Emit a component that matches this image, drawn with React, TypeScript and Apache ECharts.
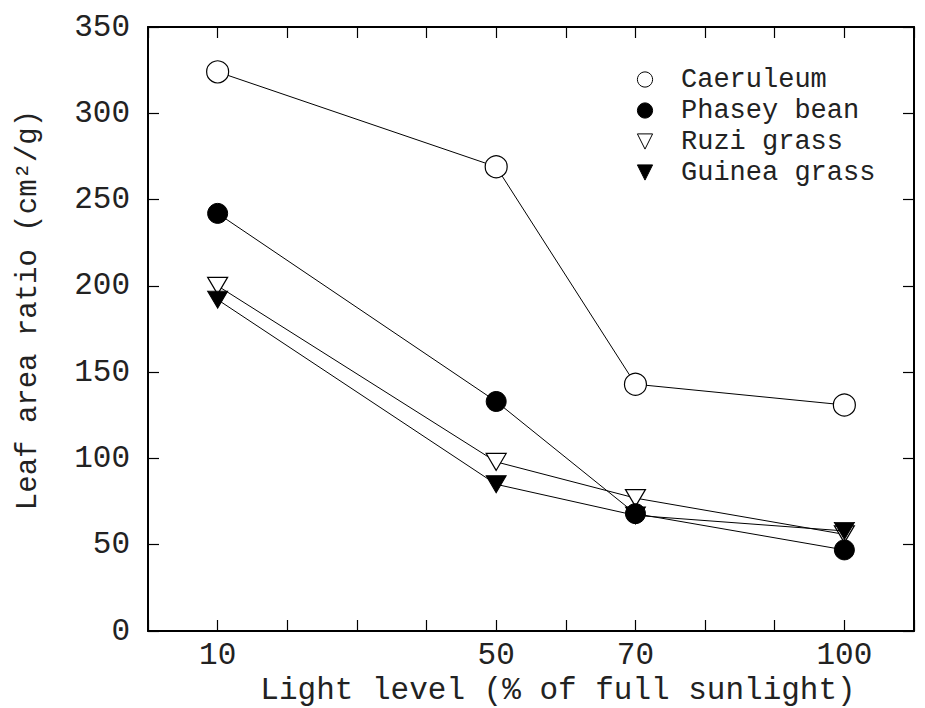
import React, { useEffect, useRef } from "react";
import * as echarts from "echarts";

const xValues = [10, 50, 70, 100];
const xTickLabels = [10, 50, 70, 100];
const seriesNames = ["Caeruleum", "Phasey bean", "Ruzi grass", "Guinea grass"];
const caeruleum = [324, 269, 143, 131];
const phaseyBean = [242, 133, 68, 47];
const ruziGrass = [200, 98, 77, 56];
const guineaGrass = [192, 85, 67, 58];
const xTitle = "Light level (% of full sunlight)";
const yTitle = "Leaf area ratio (cm²/g)";

const FONT = "'Liberation Mono', 'DejaVu Sans Mono', monospace";
const INK = "#222";

export default function App() {
  const ref = useRef<HTMLDivElement>(null);
  useEffect(() => {
    if (!ref.current) return;
    const chart = echarts.init(ref.current, null, { renderer: "svg" });
    const pairs = (vals: number[]) => xValues.map((x, i) => [x, vals[i]]);
    const lineStyle = { color: "#000", width: 1 };
    const axisCommon = {
      axisLine: { show: true, onZero: false, lineStyle: { color: "#000", width: 2 } },
      axisTick: { show: true, inside: true, length: 11, lineStyle: { color: "#000", width: 1.2 } },
      splitLine: { show: false },
    };
    chart.setOption({
      animation: false,
      backgroundColor: "#fff",
      grid: { left: 148, right: 11, top: 27, bottom: 77, containLabel: false },
      xAxis: [
        {
          type: "value",
          min: 0,
          max: 110,
          interval: 10,
          position: "bottom",
          ...axisCommon,
          axisLabel: {
            margin: 9,
            fontFamily: FONT,
            fontSize: 31,
            color: INK,
            formatter: (v: number) => (xTickLabels.includes(v) ? String(v) : ""),
          },
        },
        {
          type: "value",
          min: 0,
          max: 110,
          interval: 10,
          position: "top",
          ...axisCommon,
          axisLabel: { show: false },
        },
      ],
      yAxis: [
        {
          type: "value",
          min: 0,
          max: 350,
          interval: 50,
          position: "left",
          ...axisCommon,
          axisLabel: { margin: 18, fontFamily: FONT, fontSize: 31, color: INK },
        },
        {
          type: "value",
          min: 0,
          max: 350,
          interval: 50,
          position: "right",
          ...axisCommon,
          axisLabel: { show: false },
        },
      ],
      legend: {
        data: seriesNames,
        orient: "vertical",
        left: 609,
        top: 59,
        itemWidth: 62,
        itemHeight: 19,
        itemGap: 0,
        selectedMode: false,
        symbolRotate: "inherit",
        lineStyle: { opacity: 0, width: 0 },
        itemStyle: { borderWidth: 1 },
        textStyle: { fontFamily: FONT, fontSize: 27, color: INK, lineHeight: 31 },
      },
      graphic: [
        {
          type: "text",
          x: 28,
          y: 310,
          rotation: Math.PI / 2,
          style: {
            text: yTitle,
            fontFamily: FONT,
            fontSize: 29,
            fill: INK,
            align: "center",
            verticalAlign: "middle",
          },
        },
        {
          type: "text",
          x: 558,
          y: 690,
          style: {
            text: xTitle,
            fontFamily: FONT,
            fontSize: 31,
            fill: INK,
            align: "center",
            verticalAlign: "middle",
          },
        },
      ],
      series: [
        {
          name: seriesNames[0],
          type: "line",
          data: pairs(caeruleum),
          symbol: "circle",
          symbolSize: 22,
          lineStyle,
          itemStyle: { color: "#fff", borderColor: "#000", borderWidth: 1.2 },
          z: 2,
        },
        {
          name: seriesNames[1],
          type: "line",
          data: pairs(phaseyBean),
          symbol: "circle",
          symbolSize: 20,
          lineStyle,
          itemStyle: { color: "#000", borderColor: "#000", borderWidth: 1 },
          z: 5,
        },
        {
          name: seriesNames[2],
          type: "line",
          data: pairs(ruziGrass),
          symbol: "triangle",
          symbolRotate: 180,
          symbolSize: [20, 17],
          lineStyle,
          itemStyle: { color: "#fff", borderColor: "#000", borderWidth: 1.2 },
          z: 3,
        },
        {
          name: seriesNames[3],
          type: "line",
          data: pairs(guineaGrass),
          symbol: "triangle",
          symbolRotate: 180,
          symbolSize: [20, 17],
          lineStyle,
          itemStyle: { color: "#000", borderColor: "#000", borderWidth: 1 },
          z: 4,
        },
      ],
    });
    return () => chart.dispose();
  }, []);
  return <div ref={ref} style={{ width: 925, height: 708, position: "absolute", left: 0, top: 0 }} />;
}
